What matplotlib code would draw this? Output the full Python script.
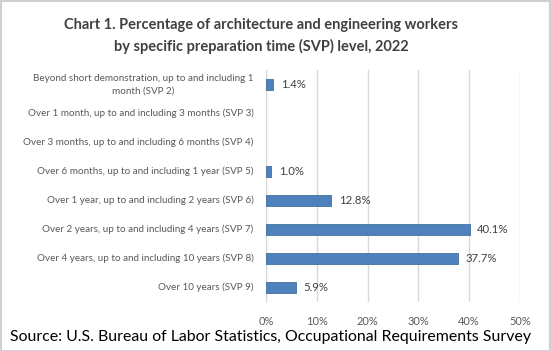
import matplotlib
matplotlib.use("Agg")
import matplotlib.pyplot as plt
from matplotlib.patches import Rectangle
from matplotlib.transforms import offset_copy

categories = [
    "Beyond short demonstration, up to and including 1\nmonth (SVP 2)",
    "Over 1 month, up to and including 3 months (SVP 3)",
    "Over 3 months, up to and including 6 months (SVP 4)",
    "Over 6 months, up to and including 1 year (SVP 5)",
    "Over 1 year, up to and including 2 years (SVP 6)",
    "Over 2 years, up to and including 4 years (SVP 7)",
    "Over 4 years, up to and including 10 years (SVP 8)",
    "Over 10 years (SVP 9)",
]
values = [1.4, None, None, 1.0, 12.8, 40.1, 37.7, 5.9]
xticks = [0, 10, 20, 30, 40, 50]
xticklabels = ["0%", "10%", "20%", "30%", "40%", "50%"]

plt.rcParams['font.family'] = ['Lato', 'DejaVu Sans']

fig = plt.figure(figsize=(5.51, 3.51), dpi=100)
fig.patches.append(Rectangle((0.001, 0.001), 0.997, 0.996, transform=fig.transFigure,
                             fill=False, edgecolor="#d0d0d0", linewidth=1.5))
ax = fig.add_axes([266/551, 1-302/351, (520-266)/551, 232/351])

ys = list(range(len(categories)))
for y, v in zip(ys, values):
    if v is None:
        continue
    ax.barh(y, v, height=0.36, color="#4f81bd", edgecolor="#41719c", linewidth=0.6, zorder=3)
    ax.text(v + 1.5, y, f"{v:.1f}%", va="center", ha="left", fontsize=8.2, color="#404040")

ax.set_ylim(len(categories) - 0.5, -0.5)
ax.set_xlim(0, 50)
ax.set_yticks(ys)
ax.set_yticklabels([""] * len(categories))
pad_pt = 9
lbl_fs = 7.1
line_pt = lbl_fs * 1.25
renderer = fig.canvas.get_renderer()
for y, c in zip(ys, categories):
    lines = c.split("\n")
    n = len(lines)
    # measure widest line
    probe = ax.text(0, y, max(lines, key=len), fontsize=lbl_fs)
    w_pt = probe.get_window_extent(renderer).width * 72 / fig.dpi
    probe.remove()
    for i, ln in enumerate(lines):
        dy = ((n - 1) / 2 - i) * line_pt
        tf = offset_copy(ax.get_yaxis_transform(), fig=fig, x=-pad_pt - w_pt / 2, y=dy, units="points")
        ax.text(0, y, ln, transform=tf, ha="center", va="center", fontsize=lbl_fs, color="#595959")

ax.set_xticks(xticks)
ax.set_xticklabels(xticklabels, fontsize=7.9, color="#595959")
ax.tick_params(axis="y", length=0)
ax.tick_params(axis="x", length=0, pad=10)
ax.grid(axis="x", color="#d9d9d9", linewidth=1, zorder=0)
for s in ["top", "right", "bottom"]:
    ax.spines[s].set_visible(False)
ax.spines["left"].set_color("#d9d9d9")
ax.spines["left"].set_zorder(1)

fig.text(261/551, 1-25/351, "Chart 1. Percentage of architecture and engineering workers",
         ha="center", va="center", fontsize=10.5, fontweight="bold", color="#404040")
fig.text(261/551, 1-46/351, "by specific preparation time (SVP) level, 2022",
         ha="center", va="center", fontsize=10.5, fontweight="bold", color="#404040")
fig.text(10/551, 1-337/351, "Source: U.S. Bureau of Labor Statistics, Occupational Requirements Survey",
         ha="left", va="center", fontsize=11.4, color="black")

fig.savefig("out.png", dpi=100)
